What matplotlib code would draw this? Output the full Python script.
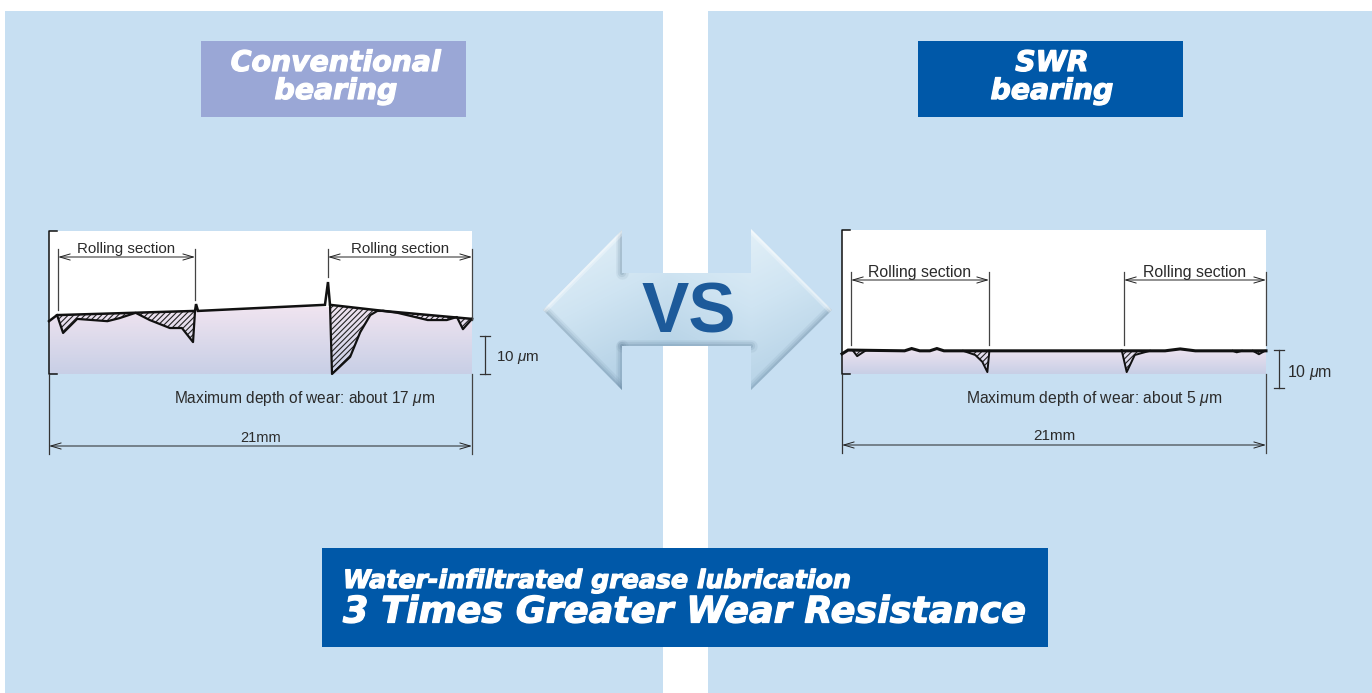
import numpy as np
import matplotlib
matplotlib.use("Agg")
import matplotlib.pyplot as plt
import matplotlib.patheffects as pe
from matplotlib.patches import Polygon, Rectangle
from matplotlib.colors import LinearSegmentedColormap

plt.rcParams['font.family'] = ['Liberation Sans', 'DejaVu Sans']
plt.rcParams['mathtext.fontset'] = 'custom'
plt.rcParams['mathtext.it'] = 'Liberation Sans:italic'
plt.rcParams['mathtext.rm'] = 'Liberation Sans'
plt.rcParams['hatch.linewidth'] = 0.8

# ---------- data (x in mm, height in micrometres above the chart floor) ----------
conv_surface_x = [0, 0.4, 7.25, 7.3, 7.4, 13.7, 13.85, 13.95, 16.6, 21]
conv_surface_h = [13.9, 15.5, 16.6, 18.4, 16.6, 18.2, 24.2, 18.2, 16.6, 14.5]
conv_wear = [
    ([0.4, 0.7, 1.4, 2.9, 3.5, 4.3, 5.0, 6.0, 6.6, 7.15, 7.25],
     [15.5, 10.8, 14.5, 13.9, 14.7, 16.1, 14.2, 12.1, 12.1, 8.4, 16.6]),
    ([13.95, 14.05, 14.95, 15.45, 15.95, 16.3, 16.6],
     [18.2, 0.0, 4.5, 11.0, 15.5, 16.6, 16.6]),
    ([16.6, 17.3, 18.8, 19.75, 20.25, 20.55, 21],
     [16.6, 16.1, 14.2, 14.2, 15.0, 11.8, 14.5]),
]
conv_sections = [(0.45, 7.25), (13.85, 21.0)]

swr_surface_x = [0, 0.3, 3.1, 3.45, 3.85, 4.35, 4.7, 5.05, 16.0, 16.75, 17.5, 21]
swr_surface_h = [5.3, 6.3, 6.1, 6.7, 6.1, 6.1, 6.7, 6.1, 6.1, 6.6, 6.1, 6.1]
swr_wear = [
    ([0.55, 0.75, 0.95, 1.15], [6.1, 4.7, 5.4, 6.1]),
    ([6.0, 6.6, 6.95, 7.2, 7.3], [6.1, 5.0, 3.2, 0.5, 6.1]),
    ([13.85, 14.1, 14.5, 15.25], [6.3, 0.5, 5.0, 6.1]),
    ([19.35, 19.55, 19.8], [6.1, 5.7, 6.1]),
    ([20.35, 20.65, 20.95], [6.1, 5.2, 6.1]),
]
swr_sections = [(0.45, 7.28), (13.97, 21.0)]

section_label = "Rolling section"
width_label = "21mm"
conv_depth_label = "Maximum depth of wear: about 17 $\\mathit{\\mu}$m"
swr_depth_label = "Maximum depth of wear: about 5 $\\mathit{\\mu}$m"
scale_label = "10 $\\mathit{\\mu}$m"
scale_um = 10
conv_title = "Conventional\nbearing"
swr_title = "SWR\nbearing"
banner_small = "Water-infiltrated grease lubrication"
banner_big = "3 Times Greater Wear Resistance"
vs_label = "VS"

# ---------- figure ----------
W, H = 1372, 693
fig = plt.figure(figsize=(W / 100, H / 100), dpi=100, facecolor='white')
bg = fig.add_axes([0, 0, 1, 1], zorder=0)
bg.set_xlim(0, W)
bg.set_ylim(H, 0)
bg.axis('off')

PANEL = '#c7dff2'
BLUE = '#0058a8'
INK = '#222222'
TXT = '#2b2b2b'

bg.add_patch(Rectangle((5, 11), 658, 682, fc=PANEL, ec='none'))
bg.add_patch(Rectangle((708, 11), 664, 682, fc=PANEL, ec='none'))
bg.add_patch(Rectangle((201, 41), 265, 76, fc='#9aa7d6', ec='none'))
bg.add_patch(Rectangle((918, 41), 265, 76, fc=BLUE, ec='none'))
bg.add_patch(Rectangle((322, 548), 726, 99, fc=BLUE, ec='none'))

heavy = dict(family='DejaVu Sans', weight='bold', style='italic', color='white',
             path_effects=[pe.withStroke(linewidth=0.9, foreground='white')])
bg.text(336, 77, conv_title, ha='center', va='center', fontsize=20.4, linespacing=1.0, **heavy)
bg.text(1052, 77, swr_title, ha='center', va='center', fontsize=20.4, linespacing=1.0, **heavy)
bg.text(343, 581, banner_small, ha='left', va='center', fontsize=18.2, **heavy)
bg.text(343, 612, banner_big, ha='left', va='center', fontsize=26.3, **heavy)

# ---------- double arrow ----------
arrow_xy = [(543, 310), (622, 230), (622, 273), (751, 273), (751, 229), (832, 310),
            (751, 390), (751, 346), (622, 346), (622, 390)]
yy, xx = np.mgrid[229:391, 543:833]
t = np.clip(0.12 + (yy - 229) / 161 * 0.62 + 0.28 * np.minimum(np.abs(xx - 543), np.abs(xx - 751) + 40) / 145, 0, 1)
arrow_cmap = LinearSegmentedColormap.from_list('a', ['#eef7fb', '#cfe4f2', '#a9c9e0'])
im = bg.imshow(t, extent=[543, 833, 391, 229], cmap=arrow_cmap, vmin=0, vmax=1,
               aspect='auto', zorder=2)
clip = Polygon(arrow_xy, closed=True, transform=bg.transData, fc='none', ec='none')
bg.add_patch(clip)
im.set_clip_path(clip)
bg.set_xlim(0, W)
bg.set_ylim(H, 0)
shadow_edges = [[(543, 310), (622, 390)], [(622, 390), (622, 346)], [(622, 346), (751, 346)],
                [(751, 390), (832, 310)], [(622, 230), (622, 273)]]
light_edges = [[(543, 310), (622, 230)], [(751, 229), (832, 310)]]
for seg in shadow_edges:
    for lw, a in [(9, 0.10), (6, 0.14), (3, 0.2)]:
        ln, = bg.plot(*zip(*seg), color='#5f7f99', lw=lw, alpha=a, zorder=3, solid_capstyle='round')
        ln.set_clip_path(clip)
for seg in light_edges:
    for lw, a in [(6, 0.3), (3, 0.35)]:
        ln, = bg.plot(*zip(*seg), color='white', lw=lw, alpha=a, zorder=3, solid_capstyle='round')
        ln.set_clip_path(clip)
bg.text(689, 307, vs_label, ha='center', va='center_baseline', fontsize=51, weight='bold',
        color='#1d5a9a', zorder=4)

# ---------- profile panels ----------
grad_cmap = LinearSegmentedColormap.from_list('g', ['#f0e4f0', '#c8cfe6'])
PX_UM = 3.8
DIM_ARROW = dict(arrowstyle='<->,head_length=0.75,head_width=0.22', lw=0.7,
                 color='#222222', shrinkA=0, shrinkB=0)


def panel(x0, x1, top, floor, sx, sh, wear, sections, section_rows, dim_row, depth_label,
          depth_xy, scale_x, scale_top, scale_text, txt_size, wear_lw, surf_lw):
    ax = fig.add_axes([x0 / W, 1 - floor / H, (x1 - x0) / W, (floor - top) / H], zorder=1)
    ymax = (floor - top) / PX_UM
    ax.set_xlim(0, 21)
    ax.set_ylim(0, ymax)
    ax.set_xticks([])
    ax.set_yticks([])
    for s in ax.spines.values():
        s.set_visible(False)
    ax.set_facecolor('white')

    grad = np.linspace(0, 1, 64).reshape(-1, 1)
    top_h = float(np.median(sh)) + 1
    img = ax.imshow(grad, extent=[0, 21, 0, top_h], cmap=grad_cmap, aspect='auto', zorder=1)
    poly = Polygon(list(zip(sx, sh)) + [(21, 0), (0, 0)], closed=True,
                   transform=ax.transData, fc='none', ec='none')
    ax.add_patch(poly)
    img.set_clip_path(poly)
    ax.set_xlim(0, 21)
    ax.set_ylim(0, ymax)

    for wx, wh in wear:
        ax.fill(wx, wh, facecolor='none', edgecolor=INK, hatch='//////', lw=0, zorder=2, clip_on=False)
        ax.plot(wx, wh, color='#111111', lw=wear_lw, zorder=3, clip_on=False)
    ax.plot(sx, sh, color='#111111', lw=surf_lw, zorder=4, clip_on=False, solid_joinstyle='miter')

    ov = fig.add_axes([0, 0, 1, 1], zorder=2)
    ov.set_xlim(0, W)
    ov.set_ylim(H, 0)
    ov.axis('off')
    px = lambda mm: x0 + mm * (x1 - x0) / 21

    ov.plot([x0 + 8, x0, x0, x0 + 8], [top, top, floor, floor], color='#111111', lw=1.1)
    ov.plot([x0, x0], [floor, dim_row + 8], color='#333333', lw=0.9)
    ov.plot([x1, x1], [floor, dim_row + 8], color='#444444', lw=0.9)
    ov.annotate('', xy=(x0, dim_row), xytext=(x1, dim_row), arrowprops=DIM_ARROW)
    ov.text((x0 + x1) / 2, dim_row - 8.5, width_label, ha='center', va='center',
            fontsize=txt_size - 0.4, color=TXT)
    for (a, b), (row, la, lb) in zip(sections, section_rows):
        ov.plot([px(a)] * 2, [row - 8, la], color='#444444', lw=0.9)
        ov.plot([px(b)] * 2, [row - 8, lb], color='#444444', lw=0.9)
        ov.annotate('', xy=(px(a), row), xytext=(px(b), row), arrowprops=DIM_ARROW)
        ov.text((px(a) + px(b)) / 2, row - 7.5, section_label, ha='center', va='center',
                fontsize=txt_size, color=TXT)
    ov.text(depth_xy[0], depth_xy[1], depth_label, ha='center', va='center',
            fontsize=depth_size[x0], color=TXT)
    sb = scale_top + scale_um * PX_UM
    ov.plot([scale_x, scale_x], [scale_top, sb], color='#333333', lw=0.9)
    for yy_ in (scale_top, sb):
        ov.plot([scale_x - 5, scale_x + 5], [yy_, yy_], color='#333333', lw=0.9)
    ov.text(scale_text, (scale_top + sb) / 2 + 3, scale_label, ha='left', va='center',
            fontsize=txt_size, color=TXT)


depth_size = {49: 11.2, 842: 11.3}
panel(49, 472, 231, 374, conv_surface_x, conv_surface_h, conv_wear, conv_sections,
      [(257, 310, 300), (257, 277, 320)], 446, conv_depth_label, (305, 399), 485, 336, 496, 10.9,
      1.6, 1.8)
panel(842, 1266, 230, 374, swr_surface_x, swr_surface_h, swr_wear, swr_sections,
      [(280, 345, 345), (280, 345, 345)], 445, swr_depth_label, (1094, 399), 1279, 350, 1287, 11.4,
      1.4, 2.2)

fig.savefig('out.png', dpi=100, facecolor='white')
